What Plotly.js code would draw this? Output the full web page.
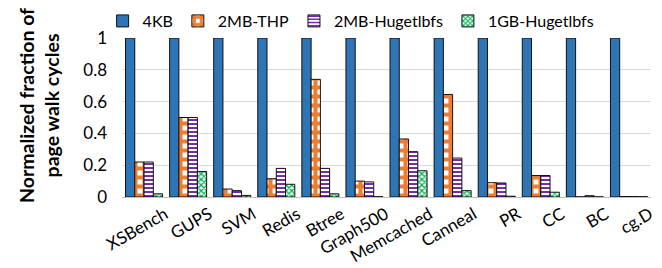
<!DOCTYPE html>
<html>
<head>
<meta charset="utf-8">
<script src="https://cdn.plot.ly/plotly-3.0.1.min.js"></script>
<style>html,body{margin:0;padding:0;background:#fff;}#chart{width:662px;height:268px;}</style>
</head>
<body>
<div id="chart"></div>
<script>
var categories = ["XSBench","GUPS","SVM","Redis","Btree","Graph500","Memcached","Canneal","PR","CC","BC","cg.D"];
var seriesNames = ["4KB","2MB-THP","2MB-Hugetlbfs","1GB-Hugetlbfs"];
var val4KB   = [1,1,1,1,1,1,1,1,1,1,1,1];
var valTHP   = [0.22,0.50,0.05,0.115,0.74,0.10,0.365,0.645,0.09,0.135,0.001,0.003];
var valHuge2 = [0.22,0.50,0.04,0.18,0.18,0.095,0.285,0.245,0.088,0.135,0.008,0.003];
var valHuge1 = [0.02,0.16,0.01,0.08,0.02,0.002,0.165,0.04,0.005,0.03,0.001,0.002];
var yTicks = [0,0.2,0.4,0.6,0.8,1];
var yTickText = ["0","0.2","0.4","0.6","0.8","1"];

var FONT = "Lato, 'Liberation Sans', sans-serif";
var outline = {color:"#111111", width:1};

var traces = [
  {type:"bar", name:seriesNames[0], x:categories, y:val4KB,
   marker:{color:"#2E75B6", line:outline}},
  {type:"bar", name:seriesNames[1], x:categories, y:valTHP,
   marker:{color:"#ffffff", line:outline,
     pattern:{shape:"+", fgcolor:"#ED7D31", bgcolor:"#ffffff", size:9, solidity:0.7, fillmode:"replace", fgopacity:1}}},
  {type:"bar", name:seriesNames[2], x:categories, y:valHuge2,
   marker:{color:"#ffffff", line:outline,
     pattern:{shape:"-", fgcolor:"#7030A0", bgcolor:"#ffffff", size:4, solidity:0.5, fillmode:"replace", fgopacity:1}}},
  {type:"bar", name:seriesNames[3], x:categories, y:valHuge1,
   marker:{color:"#ffffff", line:outline,
     pattern:{shape:"x", fgcolor:"#00B050", bgcolor:"#ffffff", size:4, solidity:0.55, fillmode:"replace", fgopacity:1}}}
];

var layout = {
  width:662, height:268,
  margin:{l:122, r:11, t:37, b:71, pad:0},
  paper_bgcolor:"#fff", plot_bgcolor:"#fff",
  font:{family:FONT, color:"#000", size:16},
  barmode:"group", bargap:0.16, bargroupgap:0,
  showlegend:true,
  legend:{orientation:"h", xref:"container", yref:"container", x:0.155, y:0.985, xanchor:"left", yanchor:"top",
          font:{family:FONT, size:16, color:"#000"}, bgcolor:"rgba(0,0,0,0)", traceorder:"normal"},
  xaxis:{type:"category", tickangle:-30, tickfont:{family:FONT, size:17, color:"#000"},
         showline:true, linecolor:"#bfbfbf", linewidth:1, ticks:"", showgrid:false, zeroline:false,
         ticklabelshift:21, fixedrange:true},
  yaxis:{range:[0,1], tickvals:yTicks, ticktext:yTickText, tickfont:{family:FONT, size:17, color:"#000"},
         showgrid:true, gridcolor:"#d9d9d9", gridwidth:1, showline:false, zeroline:false, ticks:"",
         ticklabelstandoff:14, fixedrange:true},
  annotations:[{xref:"paper", yref:"paper", x:-0.158, y:0.575, xanchor:"center", yanchor:"middle",
    text:"<b>Normalized fraction of<br>page walk cycles</b>", textangle:-90, showarrow:false,
    font:{family:FONT, size:19.5, color:"#000"}}]
};

Plotly.newPlot("chart", traces, layout, {displayModeBar:false, staticPlot:true});
</script>
</body>
</html>
